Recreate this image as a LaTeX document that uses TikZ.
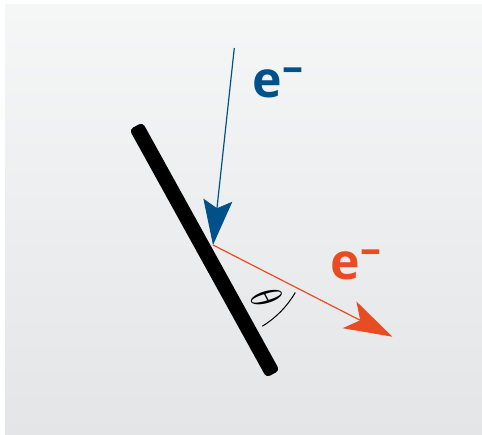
\documentclass[tikz,border=0pt]{standalone}
\usepackage{fontspec}
\newfontfamily\efont{Open Sans}
\usetikzlibrary{arrows.meta}
\definecolor{eblue}{HTML}{00508A}
\definecolor{ered}{HTML}{E84C22}
\definecolor{bgtop}{HTML}{F5F6F6}
\definecolor{bgbot}{HTML}{E4E5E7}
\tikzset{
  ray/.style={line width=1.2pt},
  elabel/.style={inner sep=0pt, anchor=base west,
    font=\efont\bfseries\fontsize{50}{50}\selectfont},
}
\newcommand{\eminus}{e\raisebox{16pt}{\fontsize{42}{42}\selectfont –}}
\begin{document}
\begin{tikzpicture}[x=1pt,y=-1pt]
\useasboundingbox (0,0) rectangle (482,435);
\fill[white] (0,0) rectangle (482,435);
\shade[top color=bgtop, bottom color=bgbot] (5,5) rectangle (482,435);
% plate
\fill[black, rounded corners=4pt] (142.6,122.4) -- (279.6,370.4) -- (266.4,377.6) -- (129.4,129.6) -- cycle;
\coordinate (hit) at (213,245);
\coordinate (src) at (234.3,48);
\coordinate (out) at (392.3,336.7);
\draw[ray, eblue, -{Stealth[length=45pt,width=29pt,inset=8pt]}] (src) -- (hit);
\draw[ray, ered, -{Stealth[length=48pt,width=30pt,inset=12pt]}] (hit) -- (out);
\draw[line width=1pt] ([shift={(58.7:95)}]hit) arc[start angle=58.7, end angle=30, radius=95];
\node[rotate=-62, inner sep=0pt] (theta) at (267,298) {\scalebox{3.3}[4.4]{$\theta$}};
\node[elabel, text=eblue] (ein) at (252.5,98) {\eminus};
\node[elabel, text=ered] (eout) at (330.5,280) {\eminus};
\end{tikzpicture}
\end{document}
